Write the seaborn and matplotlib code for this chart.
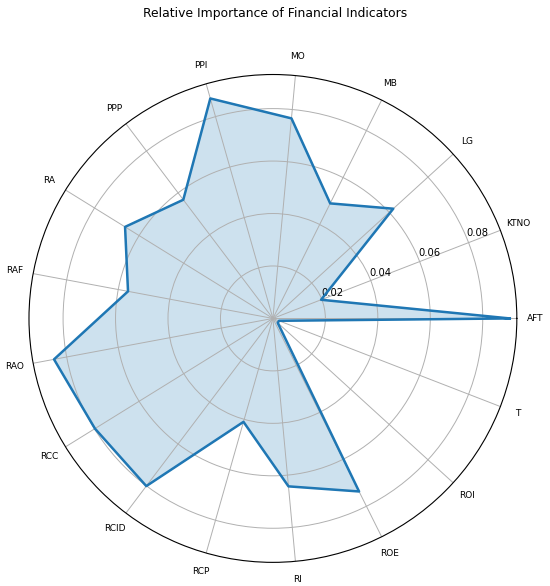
"""
Radar chart: relative importance of financial indicators
"""

import numpy as np
import pandas as pd
import matplotlib
matplotlib.use("Agg")
import matplotlib.pyplot as plt
import seaborn as sns

# ========== DATA ==========
indicators = ["AFT", "KTNO", "LG", "MB", "MO", "PPI", "PPP", "RA", "RAF",
              "RAO", "RCC", "RCID", "RCP", "RI", "ROE", "ROI", "T"]
importance = [0.0903, 0.0197, 0.0621, 0.0490, 0.0766, 0.0872, 0.0567, 0.0663,
              0.0562, 0.0849, 0.0798, 0.0801, 0.0410, 0.0643, 0.0737, 0.0025,
              0.0025]
r_ticks = [0.02, 0.04, 0.06, 0.08]

# ========== PREP ==========
n = len(indicators)
angles = np.linspace(0, 2 * np.pi, n, endpoint=False)
df = pd.DataFrame({"angle": np.append(angles, 2 * np.pi),
                   "value": importance + importance[:1]})

# ========== PLOT ==========
line_color = sns.color_palette("tab10")[0]

fig = plt.figure(figsize=(5.5, 5.86), dpi=100)
ax = fig.add_axes([0.0527, 0.0401, 0.887, 0.833], projection="polar")

sns.lineplot(data=df, x="angle", y="value", sort=False, color=line_color,
             linewidth=1.8, ax=ax)
ax.fill(df["angle"], df["value"], color=line_color, alpha=0.22)

ax.set_xticks(angles)
ax.set_xticklabels(indicators, fontsize=6.5)
ax.set_yticks(r_ticks)
ax.set_yticklabels([f"{t:.2f}" for t in r_ticks], fontsize=7.2)
ax.set_rlabel_position(22.5)
ax.set_ylim(0, 0.093)
ax.set_xlabel("")
ax.set_ylabel("")
ax.grid(True, color="#b0b0b0", linewidth=0.7)
ax.tick_params(axis="x", pad=3)

fig.suptitle("Relative Importance of Financial Indicators", fontsize=8.9,
             y=0.988)

fig.savefig("out.png", dpi=100)
